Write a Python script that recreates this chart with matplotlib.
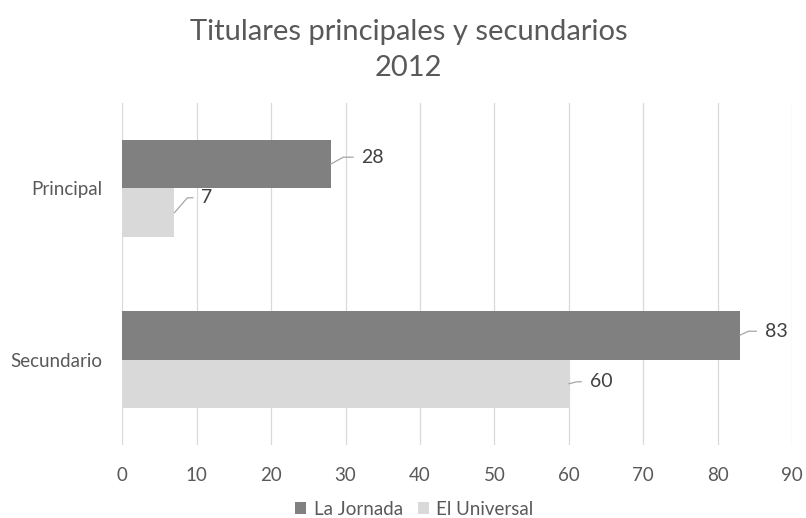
import matplotlib
matplotlib.use("Agg")
import matplotlib.pyplot as plt
import numpy as np

# data
categories = ['Principal', 'Secundario']
series_names = ['La Jornada', 'El Universal']
la_jornada = [28, 83]
el_universal = [7, 60]
x_ticks = [0, 10, 20, 30, 40, 50, 60, 70, 80, 90]
title = 'Titulares principales y secundarios\n2012'

DARK = '#808080'; LIGHT = '#d9d9d9'; GRID = '#d9d9d9'
TXT = '#595959'; LBL = '#404040'; LEAD = '#a6a6a6'

plt.rcParams['font.family'] = ['Lato', 'DejaVu Sans']
fig = plt.figure(figsize=(8.06, 5.18), dpi=100)
ax = fig.add_axes([0.1517, 0.1409, 0.8309, 0.6603])

y = np.arange(len(categories))
h = 0.284
b1 = ax.barh(y - h/2, la_jornada, height=h, color=DARK, zorder=3, label=series_names[0])
b2 = ax.barh(y + h/2, el_universal, height=h, color=LIGHT, zorder=3, label=series_names[1])

ax.set_xlim(0, 90)
ax.set_ylim(1.5, -0.5)
ax.set_xticks(x_ticks)
ax.set_yticks(y)
ax.set_yticklabels(categories)
ax.grid(axis='x', color=GRID, linewidth=0.9, zorder=0)
for s in ax.spines.values():
    s.set_visible(False)
ax.tick_params(length=0, labelsize=13.5, colors=TXT)
ax.tick_params(axis='x', pad=16)
ax.tick_params(axis='y', pad=14)

# data labels with leader lines (offset in pixels, angle of the slanted part)
lead = {(0, 0): (31, 7, 29), (1, 0): (25, 4, 25), (0, 1): (27, 15, 49), (1, 1): (21, 2, 14)}
for si, (bars, vals) in enumerate([(b1, la_jornada), (b2, el_universal)]):
    for ci, (bar, v) in enumerate(zip(bars, vals)):
        dx, dy, ang = lead[(ci, si)]
        yc = bar.get_y() + bar.get_height()/2
        ax.annotate(f'{v}', xy=(v, yc), xytext=(dx, dy), textcoords='offset pixels',
                    ha='left', va='center', fontsize=14, color=LBL,
                    arrowprops=dict(arrowstyle='-', color=LEAD, lw=0.9, shrinkA=4, shrinkB=0,
                                    connectionstyle=f'angle,angleA=0,angleB={ang},rad=0'))

fig.suptitle(title, x=0.507, y=0.903, va='center', fontsize=21, color=TXT, linespacing=1.5)

fig.legend(loc='center', bbox_to_anchor=(0.514, 0.017), ncol=2, frameon=False,
           fontsize=13.5, labelcolor=TXT, handlelength=0.6, handleheight=0.6,
           handletextpad=0.4, columnspacing=0.8)

fig.savefig('out.png', dpi=100)
